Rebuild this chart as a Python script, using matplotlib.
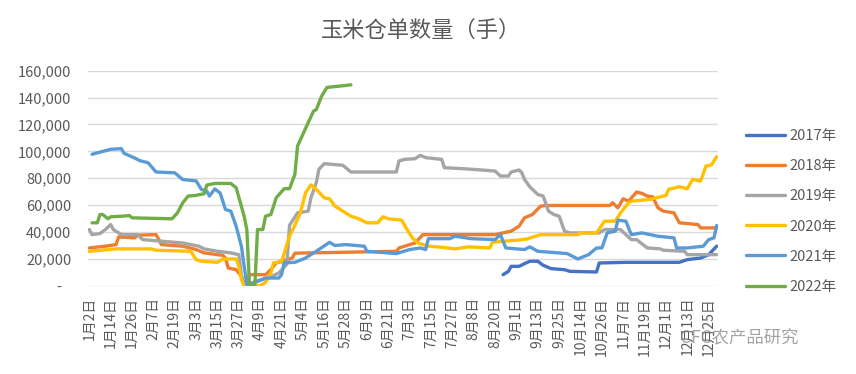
import matplotlib
matplotlib.use('Agg')
import matplotlib.pyplot as plt
from matplotlib.ticker import FuncFormatter

plt.rcParams['font.family'] = ['Noto Sans CJK SC', 'DejaVu Sans']

# x tick labels, one every 8 trading days
dates = ['1月2日', '1月14日', '1月26日', '2月7日', '2月19日', '3月3日', '3月15日',
         '3月27日', '4月9日', '4月21日', '5月4日', '5月16日', '5月28日', '6月9日',
         '6月21日', '7月3日', '7月15日', '7月27日', '8月8日', '8月20日', '9月1日',
         '9月13日', '9月25日', '10月14日', '10月26日', '11月7日', '11月19日',
         '12月1日', '12月13日', '12月25日']
n_days = 236

# values: (trading day index, lots)
x2017 = [155, 157, 158, 161, 163, 165, 168, 170, 173, 178, 180, 190, 191, 201, 221, 224, 229, 232, 235]
y2017 = [8200, 10700, 14400, 14400, 16400, 18200, 18200, 15200, 12700, 11900, 10700, 10200,
         16900, 17400, 17400, 19400, 20600, 23100, 29400]

x2018 = [0, 6, 10, 11, 17, 18, 25, 27, 35, 40, 43, 50, 51, 52, 55, 57, 58, 60, 66, 68, 70, 76,
         77, 115, 116, 122, 125, 152, 158, 161, 163, 166, 169, 171, 195, 196, 198, 200, 202,
         205, 207, 209, 211, 213, 215, 219, 221, 228, 229, 235]
y2018 = [28100, 29400, 30600, 36300, 35600, 37600, 38000, 30600, 29400, 26900, 24400, 22600,
         20600, 13200, 11900, 7000, 700, 8200, 8200, 11900, 17000, 20600, 24200, 25600, 28100,
         31800, 38000, 38000, 40600, 44300, 50500, 53000, 59200, 59700, 59700, 61700, 58000,
         64700, 62900, 69700, 68700, 66700, 66200, 58000, 55500, 54200, 46800, 45500, 43000,
         43000]

x2019 = [0, 1, 4, 6, 8, 9, 12, 18, 20, 27, 35, 41, 43, 48, 53, 56, 57, 58, 60, 62, 67, 71, 74,
         75, 78, 82, 83, 85, 86, 88, 95, 98, 115, 116, 118, 122, 124, 126, 132, 133, 140, 147,
         152, 154, 157, 158, 161, 162, 163, 165, 168, 170, 172, 174, 176, 178, 180, 191, 193,
         199, 201, 203, 205, 209, 214, 215, 223, 224, 235]
y2019 = [41800, 38000, 38800, 41800, 45500, 41800, 38000, 38000, 34300, 33100, 31800, 29400,
         27400, 25600, 24400, 23100, 7000, 0, 0, 3200, 5700, 9500, 16000, 45000, 54200, 55500,
         65400, 76600, 86600, 90800, 89600, 84600, 84600, 92800, 94000, 94500, 97000, 95300,
         94000, 87800, 87100, 86100, 85300, 81600, 81600, 84600, 86100, 84100, 79100, 73600,
         67900, 66700, 55500, 53000, 51700, 40600, 39300, 39300, 41800, 41800, 38000, 34300,
         34300, 28100, 27400, 26400, 25600, 23100, 23100]

x2020 = [0, 10, 23, 25, 38, 40, 42, 48, 50, 55, 56, 57, 58, 64, 66, 68, 69, 72, 73, 75, 77, 79,
         81, 83, 85, 86, 88, 90, 92, 95, 98, 101, 104, 108, 110, 112, 117, 119, 121, 123, 127,
         132, 137, 142, 150, 151, 155, 160, 164, 169, 183, 184, 190, 193, 197, 199, 202, 203,
         210, 216, 217, 221, 224, 226, 229, 231, 233, 235]
y2020 = [25600, 27400, 27400, 26400, 25600, 19400, 18200, 17400, 19900, 19900, 14400, 4500, 0,
         0, 2500, 9500, 17000, 17500, 24400, 36800, 45000, 54000, 69200, 75000, 71700, 69700,
         65400, 64700, 59200, 55500, 51700, 49800, 46800, 46800, 51300, 49800, 48800, 41800,
         35600, 31800, 29400, 28600, 27400, 28900, 28100, 32300, 33100, 33800, 34800, 38000,
         38000, 39300, 39300, 48000, 48000, 54200, 61700, 62900, 64200, 67200, 71700, 73600,
         72200, 79100, 77900, 89100, 89800, 96000]

x2021 = [1, 8, 12, 13, 17, 19, 22, 25, 32, 35, 40, 42, 44, 45, 47, 49, 51, 53, 55, 57, 58, 59,
         63, 66, 71, 72, 73, 77, 81, 82, 85, 90, 92, 96, 103, 104, 115, 120, 124, 126, 127, 135,
         137, 143, 152, 154, 156, 163, 165, 168, 179, 183, 187, 190, 192, 194, 197, 198, 201,
         203, 207, 213, 219, 220, 224, 230, 232, 234, 235]
y2021 = [97800, 101500, 102000, 98500, 95000, 93000, 91500, 84600, 84000, 79000, 78000, 71600,
         70400, 66700, 72000, 69000, 56700, 55500, 44300, 29000, 14400, 700, 3200, 5700, 5700,
         8200, 17000, 17400, 20600, 21900, 25600, 32300, 29900, 30600, 29400, 25600, 23900,
         26900, 28100, 26900, 35000, 35000, 36800, 35000, 34300, 38000, 28100, 26900, 28900,
         25600, 23900, 19900, 23100, 28100, 28100, 39300, 40600, 48800, 48000, 38000, 39300,
         36800, 35600, 28100, 28100, 29400, 34300, 35600, 44800]

x2022 = [1, 3, 4, 5, 7, 8, 12, 15, 16, 31, 33, 35, 37, 40, 41, 43, 44, 47, 53, 55, 58, 59, 60,
         62, 63, 65, 66, 68, 70, 73, 75, 77, 78, 80, 82, 84, 85, 87, 89, 91, 95, 98]
y2022 = [46800, 46800, 53000, 53000, 49800, 51300, 51700, 52200, 50500, 49800, 54200, 61700,
         66700, 67200, 67700, 68400, 74900, 76100, 76100, 72900, 51700, 41800, 0, 0, 41800,
         41800, 51700, 53000, 65400, 72200, 72200, 82900, 104000, 112700, 121400, 130000,
         131000, 141000, 147500, 148000, 148800, 149500]

series = [
    ('2017年', x2017, y2017, '#4472C4'),
    ('2018年', x2018, y2018, '#ED7D31'),
    ('2019年', x2019, y2019, '#A5A5A5'),
    ('2020年', x2020, y2020, '#FFC000'),
    ('2021年', x2021, y2021, '#5B9BD5'),
    ('2022年', x2022, y2022, '#70AD47'),
]

fig = plt.figure(figsize=(8.56, 3.74), dpi=100)
ax = fig.add_axes([88 / 856, 1 - 285.7 / 374, 630 / 856, 215 / 374])

for name, xs, ys, c in series:
    ax.plot(xs, ys, color=c, lw=2.4, label=name, solid_capstyle='round', solid_joinstyle='round')

ax.set_xlim(-0.5, n_days - 0.5)
ax.set_ylim(0, 160000)
ax.set_yticks(range(0, 160001, 20000))
ax.yaxis.set_major_formatter(FuncFormatter(lambda v, p: '-   ' if v == 0 else f'{v:,.0f}'))
ax.set_xticks(range(0, 8 * len(dates), 8))
ax.set_xticklabels(dates, rotation=90)
ax.tick_params(axis='y', length=0, pad=12, labelsize=10.5, labelcolor='#595959')
ax.tick_params(axis='x', length=0, pad=8, labelsize=10, labelcolor='#595959')
ax.grid(axis='y', color='#D9D9D9', lw=1)
ax.set_axisbelow(True)
for s in ax.spines.values():
    s.set_visible(False)

fig.text(421 / 856, 1 - 30 / 374, '玉米仓单数量（手）', ha='center', va='center',
         fontsize=16, color='#595959')

fig.legend(loc='center left', bbox_to_anchor=(746 / 856, 1 - 211.5 / 374), frameon=False,
           borderpad=0, borderaxespad=0, handlelength=2.7, handletextpad=0.25,
           labelspacing=1.1, fontsize=10.5, labelcolor='#595959')

# watermark, sits over the last tick labels as in the source
fig.text(680 / 856, 1 - 337 / 374, 'CFC农产品研究', ha='left', va='center',
         fontsize=12.5, color='#8c8c8c', alpha=0.8)

fig.savefig('out.png', dpi=100)
